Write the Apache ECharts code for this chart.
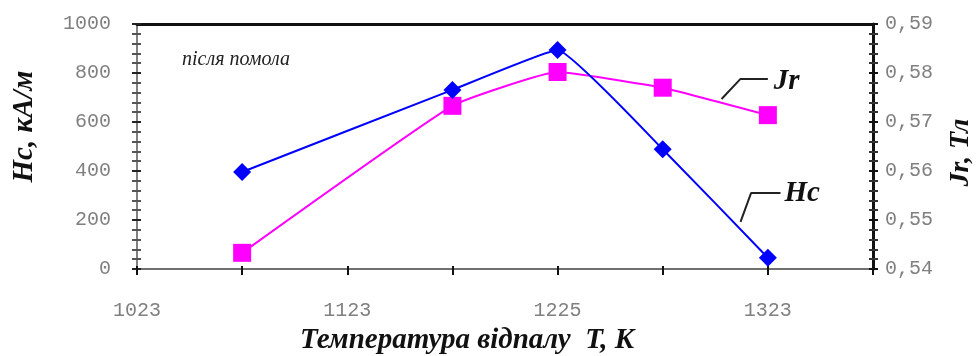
<!DOCTYPE html>
<html>
<head>
<meta charset="utf-8">
<script src="https://cdn.jsdelivr.net/npm/echarts@6/dist/echarts.min.js"></script>
<style>
  html, body { margin: 0; padding: 0; background: #fff; }
  #chart { width: 977px; height: 356px; }
</style>
</head>
<body>
<div id="chart"></div>
<script>
// Annealing temperature, K
const temperatures = [1073, 1173, 1223, 1273, 1323];
// Coercive force Hc, kA/m
const hcValues = [396, 731, 894, 489, 46];
// Remanence Jr, T
const jrValues = [0.5433, 0.5733, 0.5802, 0.5770, 0.5714];
// Labelled x ticks (every 100 K starting at 1023)
const xTickLabels = ['1023', '1123', '1225', '1323'];
// Leader lines for the series captions (x in K, y in Hc units)
const jrLeader = [[1301, 694], [1310, 776], [1323, 776]];
const hcLeader = [[1310, 192], [1315, 310], [1329, 310]];

const tickFont = { fontFamily: 'Liberation Mono', fontSize: 20, color: '#808080' };
const titleFont = { fontFamily: 'Liberation Serif', fontStyle: 'italic', fontWeight: 'bold', color: '#111' };
const captionStyle = { fontSize: 29, fontFamily: 'Liberation Serif', fontStyle: 'italic', fontWeight: 'bold', color: '#111' };

const X_MIN = 1023, X_MAX = 1373;

const chart = echarts.init(document.getElementById('chart'), null, { renderer: 'canvas' });

chart.setOption({
  animation: false,
  backgroundColor: '#fff',
  title: {
    text: 'після помола',
    left: 177, top: 45,
    textStyle: { fontFamily: 'Liberation Serif', fontStyle: 'italic', fontWeight: 'normal', fontSize: 20, color: '#222' }
  },
  grid: { left: 137, right: 104, top: 24, bottom: 87, containLabel: false, outerBoundsMode: 'none' },
  xAxis: [
    {
      type: 'value', position: 'bottom', min: X_MIN, max: X_MAX, interval: 50,
      name: 'Температура відпалу  T, K', nameLocation: 'middle', nameGap: 57,
      nameTextStyle: Object.assign({ fontSize: 29, padding: [0, 76, 0, 0] }, titleFont),
      axisLine: { lineStyle: { color: '#707070', width: 2 } },
      axisTick: { show: true, length: 6, lineStyle: { color: '#111', width: 2 } },
      axisLabel: Object.assign({
        margin: 32,
        formatter: v => {
          const k = (v - X_MIN) / 100;
          return Number.isInteger(k) && k < xTickLabels.length ? xTickLabels[k] : '';
        }
      }, tickFont),
      splitLine: { show: false }
    },
    {
      type: 'value', position: 'bottom', min: X_MIN, max: X_MAX, interval: 50,
      axisLine: { show: false },
      axisTick: { show: true, inside: true, length: 3, lineStyle: { color: '#111', width: 2 } },
      axisLabel: { show: false },
      splitLine: { show: false }
    },
    {
      type: 'value', position: 'top', min: X_MIN, max: X_MAX,
      axisLine: { show: true, lineStyle: { color: '#111', width: 3 } },
      axisTick: { show: false }, axisLabel: { show: false }, splitLine: { show: false }
    }
  ],
  yAxis: [
    {
      type: 'value', position: 'left', min: 0, max: 1000, interval: 200,
      name: 'Hc, кА/м', nameLocation: 'middle', nameGap: 98, nameRotate: 90,
      nameTextStyle: Object.assign({ fontSize: 29, padding: [0, 0, 0, 40] }, titleFont),
      axisLine: { show: true, lineStyle: { color: '#808080', width: 2 } },
      axisTick: { show: true, length: 5, lineStyle: { color: '#222', width: 2 } },
      minorTick: { show: true, splitNumber: 5, length: 5, lineStyle: { color: '#555', width: 2 } },
      axisLabel: Object.assign({ margin: 26, formatter: v => String(v) }, tickFont),
      splitLine: { show: false }
    },
    {
      type: 'value', position: 'right', min: 0.54, max: 0.59, interval: 0.01,
      name: 'Jr, Тл', nameLocation: 'middle', nameGap: 74, nameRotate: 90,
      nameTextStyle: Object.assign({ fontSize: 28, padding: [0, 12, 0, 0] }, titleFont),
      axisLine: { show: true, lineStyle: { color: '#111', width: 3 } },
      axisTick: { show: true, length: 5, lineStyle: { color: '#111', width: 2 } },
      minorTick: { show: true, splitNumber: 5, length: 5, lineStyle: { color: '#333', width: 2 } },
      axisLabel: Object.assign({ margin: 12, formatter: v => v.toFixed(2).replace('.', ',') }, tickFont),
      splitLine: { show: false }
    },
    {
      type: 'value', position: 'left', min: 0, max: 1000, interval: 200,
      axisLine: { show: false },
      axisTick: { show: true, inside: true, length: 4, lineStyle: { color: '#222', width: 2 } },
      minorTick: { show: true, splitNumber: 5, length: 4, lineStyle: { color: '#555', width: 2 } },
      axisLabel: { show: false }, splitLine: { show: false }
    },
    {
      type: 'value', position: 'right', min: 0.54, max: 0.59, interval: 0.01,
      axisLine: { show: false },
      axisTick: { show: true, inside: true, length: 4, lineStyle: { color: '#111', width: 2 } },
      minorTick: { show: true, splitNumber: 5, length: 4, lineStyle: { color: '#333', width: 2 } },
      axisLabel: { show: false }, splitLine: { show: false }
    }
  ],
  series: [
    {
      name: 'Jr', type: 'line', xAxisIndex: 0, yAxisIndex: 1,
      data: temperatures.map((t, i) => [t, jrValues[i]]),
      smooth: 0.12,
      symbol: 'rect', symbolSize: 18,
      lineStyle: { color: '#ff00ff', width: 2 },
      itemStyle: { color: '#ff00ff' },
      z: 3
    },
    {
      name: 'Hc', type: 'line', xAxisIndex: 0, yAxisIndex: 0,
      data: temperatures.map((t, i) => [t, hcValues[i]]),
      smooth: 0.1,
      symbol: 'diamond', symbolSize: [18, 18],
      lineStyle: { color: '#0000ff', width: 2 },
      itemStyle: { color: '#0000ff' },
      z: 4
    },
    {
      name: 'Jr caption', type: 'line', xAxisIndex: 0, yAxisIndex: 0,
      data: jrLeader,
      symbol: 'none', lineStyle: { color: '#222', width: 2 }, silent: true, z: 5,
      endLabel: Object.assign({ show: true, distance: 6, offset: [0, 3], formatter: 'Jr' }, captionStyle)
    },
    {
      name: 'Hc caption', type: 'line', xAxisIndex: 0, yAxisIndex: 0,
      data: hcLeader,
      symbol: 'none', lineStyle: { color: '#222', width: 2 }, silent: true, z: 5,
      endLabel: Object.assign({ show: true, distance: 4, formatter: 'Hc' }, captionStyle)
    }
  ]
});
</script>
</body>
</html>
